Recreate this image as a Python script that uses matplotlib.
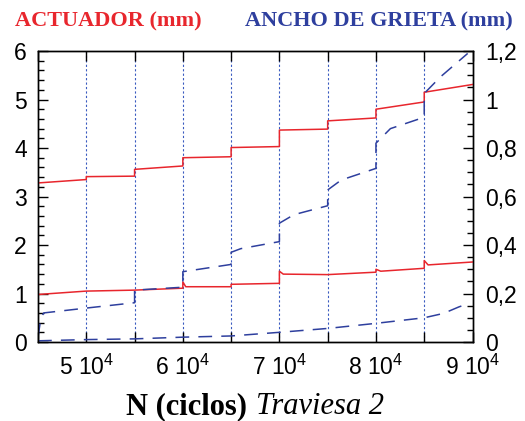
import matplotlib
matplotlib.use("Agg")
import matplotlib.pyplot as plt
from matplotlib.ticker import MultipleLocator, FuncFormatter

plt.rcParams["font.family"] = "Liberation Sans"
plt.rcParams["mathtext.default"] = "regular"

RED = "#e8262d"
BLUE = "#2e3f9e"
GRID_BLUE = "#3a5bc0"

# --- data ------------------------------------------------------------------

# actuator, upper trace (left axis, mm)
act_hi_x = [45000, 50000, 50000, 55000, 55000, 60000, 60000, 65000, 65000,
            70000, 70000, 75000, 75000, 80000, 80000, 85000, 85000, 90000]
act_hi_y = [3.28, 3.35, 3.41, 3.42, 3.56, 3.63, 3.80, 3.82, 4.01,
            4.03, 4.37, 4.39, 4.56, 4.62, 4.80, 4.95, 5.15, 5.31]

# actuator, lower trace (left axis, mm)
act_lo_x = [45000, 50000, 55000, 60000, 60000, 60300, 65000, 65000, 70000,
            70000, 70400, 75000, 80000, 80000, 80500, 85000, 85000, 85400, 90000]
act_lo_y = [0.98, 1.05, 1.07, 1.11, 1.24, 1.14, 1.14, 1.19, 1.21,
            1.46, 1.40, 1.39, 1.44, 1.50, 1.46, 1.52, 1.68, 1.59, 1.65]

# crack width, upper trace (right axis, mm)
gri_hi_x = [45000, 45300, 45600, 50000, 55000, 55000, 60000, 60000, 65000,
            65000, 66000, 70000, 70000, 71500, 75000, 75000, 76400, 80000,
            80000, 81500, 85000, 85000, 86700, 89500]
gri_hi_y = [0.02, 0.10, 0.12, 0.14, 0.162, 0.214, 0.226, 0.29, 0.32,
            0.37, 0.385, 0.414, 0.49, 0.525, 0.562, 0.627, 0.668, 0.716,
            0.82, 0.88, 0.927, 1.025, 1.094, 1.19]

# crack width, lower trace (right axis, mm)
gri_lo_x = [45000, 50000, 55000, 60000, 65000, 70000, 75000, 80000,
            85000, 87000, 88600, 89500]
gri_lo_y = [0.005, 0.01, 0.013, 0.02, 0.025, 0.04, 0.056, 0.077,
            0.10, 0.118, 0.145, 0.157]

step_x = [50000, 55000, 60000, 65000, 70000, 75000, 80000, 85000]

# --- figure ----------------------------------------------------------------

fig = plt.figure(figsize=(5.25, 4.21), dpi=100)
ax = fig.add_axes([0.0724, 0.1876, 0.8276, 0.6912])
ax2 = ax.twinx()

for xv in step_x:
    ax.axvline(xv, color=GRID_BLUE, lw=0.8, ls=(0, (2, 2)), zorder=1)

ax.plot(act_hi_x, act_hi_y, color=RED, lw=1.1, zorder=3)
ax.plot(act_lo_x, act_lo_y, color=RED, lw=1.1, zorder=3)

ax2.plot(gri_hi_x, gri_hi_y, color=BLUE, lw=1.1, dashes=(9, 6))
ax2.plot(gri_lo_x, gri_lo_y, color=BLUE, lw=1.1, dashes=(9, 6))

ax.set_xlim(45000, 90000)
ax.set_ylim(0, 6)
ax2.set_ylim(0, 1.2)

ax.xaxis.set_major_locator(MultipleLocator(5000))
ax.xaxis.set_major_formatter(FuncFormatter(
    lambda v, p: "%d $10^{4}$" % round(v / 10000) if round(v) % 10000 == 0 else ""))
ax.yaxis.set_major_locator(MultipleLocator(1))
ax.yaxis.set_minor_locator(MultipleLocator(0.2))
ax2.yaxis.set_major_locator(MultipleLocator(0.2))
ax2.yaxis.set_minor_locator(MultipleLocator(0.05))
ax2.yaxis.set_major_formatter(FuncFormatter(
    lambda v, p: ("%g" % round(v, 2)).replace(".", ",")))

ax.tick_params(axis="x", which="major", direction="in", length=7, width=1,
               top=True, labelsize=16.5, pad=9)
ax.tick_params(axis="y", which="major", direction="in", length=7, width=1,
               labelsize=16.5, pad=8)
ax.tick_params(axis="y", which="minor", direction="in", length=4, width=1)
ax2.tick_params(axis="y", which="major", direction="in", length=7, width=1,
                labelsize=16.5, pad=9)
ax2.tick_params(axis="y", which="minor", direction="in", length=4, width=1)

for a in (ax, ax2):
    for s in a.spines.values():
        s.set_linewidth(1.0)

fig.text(15 / 525, 1 - 26 / 421, "ACTUADOR (mm)", color=RED, fontsize=16,
         family="Liberation Serif", weight="bold", ha="left", va="baseline")
fig.text(513 / 525, 1 - 26 / 421, "ANCHO DE GRIETA (mm)", color=BLUE, fontsize=16,
         family="Liberation Serif", weight="bold", ha="right", va="baseline")

fig.text(247 / 525, 7 / 421, "N (ciclos)", fontsize=22, family="Liberation Serif",
         weight="bold", ha="right", va="baseline")
fig.text(256 / 525, 7 / 421, "Traviesa 2", fontsize=22, family="Liberation Serif",
         style="italic", ha="left", va="baseline")

fig.savefig("out.png", dpi=100)
